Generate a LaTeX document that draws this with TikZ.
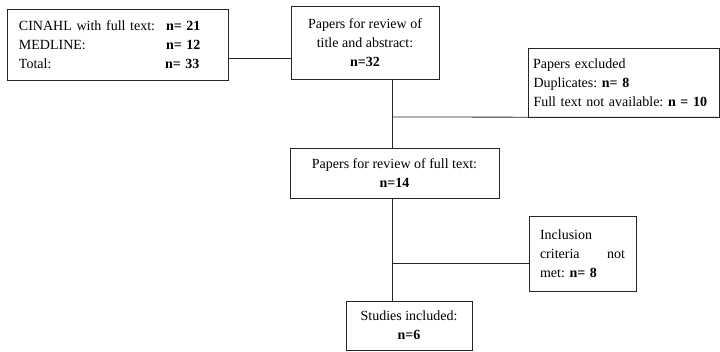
\documentclass[tikz,border=0pt]{standalone}
\usepackage{fontspec}
\setmainfont{Liberation Serif}
\frenchspacing
\begin{document}
\begin{tikzpicture}[x=1pt,y=-1pt,
  box/.style={draw=black!85, line width=0.8pt, inner sep=0pt,
    font=\fontsize{14}{19}\selectfont\frenchspacing},
  conn/.style={draw=black!85, line width=0.8pt}]
\useasboundingbox (0,0) rectangle (720,351);
% boxes
\node[box, minimum width=221pt, minimum height=71pt, align=left, text width=197pt] (src) at (117.5,44.5)
  {\makebox[147pt][l]{CINAHL with full text:}\textbf{n= 21}\\
   \makebox[147pt][l]{MEDLINE:}\textbf{n= 12}\\
   \makebox[146pt][l]{Total:}\textbf{n= 33}};
\node[box, minimum width=148pt, minimum height=73pt, align=center] (screen) at (365,42.5)
  {Papers for review of\\title and abstract:\\\textbf{n=32}};
\node[box, minimum width=191pt, minimum height=69pt, align=left, text width=180pt] (excl) at (623.5,82.5)
  {\hspace*{-0.5pt}Papers excluded\\Duplicates: \textbf{n= 8}\\Full text not available: \textbf{n = 10}};
\node[box, minimum width=209pt, minimum height=50pt, align=center] (full) at (394.5,173)
  {Papers for review of full text:\\\textbf{n=14}};
\node[box, minimum width=107pt, minimum height=75pt, align=left, text width=85pt] (crit) at (582.5,253.5)
  {Inclusion\\criteria\hfill not\\met: \textbf{n= 8}};
\node[box, minimum width=126pt, minimum height=49pt, align=center] (incl) at (409,325.5)
  {Studies included:\\\textbf{n=6}};
% connectors
\coordinate (spine) at (392,0);
\coordinate (j1) at (0,58);
\coordinate (j2) at (392,117);
\coordinate (j3) at (392,263);
\draw[conn] (src.east |- j1) -- (screen.west |- j1);
\draw[conn] (screen.south -| spine) -- (full.north -| spine);
\draw[conn] (j2) -- (excl.south east);
\draw[conn] (full.south -| spine) -- (incl.north -| spine);
\draw[conn] (j3) -- (j3 -| crit.west);
\end{tikzpicture}
\end{document}
